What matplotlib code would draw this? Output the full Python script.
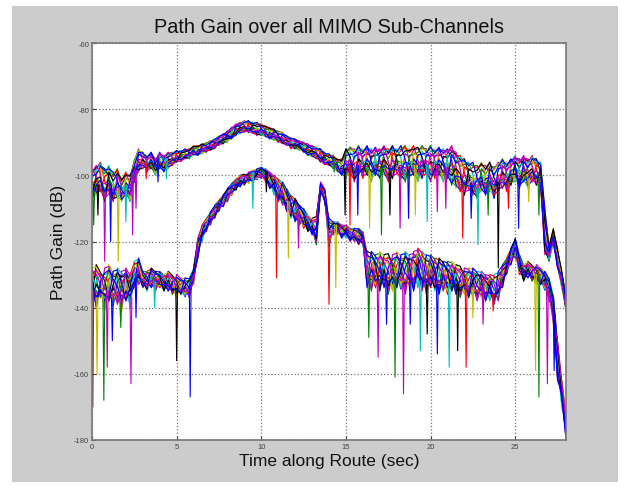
import numpy as np
import matplotlib
matplotlib.use("Agg")
import matplotlib.pyplot as plt
from matplotlib.patches import Rectangle

plt.rcParams['font.family'] = ['Liberation Sans', 'DejaVu Sans']
plt.rcParams['axes.unicode_minus'] = False

# time grid, 0.25 s steps
t = np.arange(113) * 0.25

# strong path bundle: top / bottom of the band (dB)
strong_hi = [-98, -97, -96, -98, -97, -99, -98, -101,
             -99, -100, -95, -92, -93, -94, -93, -95,
             -93, -94, -93, -93, -92.5, -92.5, -92, -92,
             -91, -91, -90.5, -90, -89.5, -89, -88, -87.5,
             -86.5, -85.5, -84.5, -84, -83.5, -83.5, -84, -84,
             -84.5, -85, -85.5, -86, -86.5, -87, -88, -88.5,
             -89, -89.5, -90, -90.5, -91, -91.5, -92, -93,
             -93.5, -94, -95, -95, -92, -91, -92, -91,
             -92, -91, -92, -91.5, -92, -91, -92, -91,
             -92, -91, -91, -92, -91, -91.5, -90.5, -92,
             -91, -92, -91.5, -92, -92, -91, -93, -94,
             -95, -96, -96, -97, -96, -97, -96, -97,
             -96, -95, -96, -95, -94, -95, -94, -95,
             -94, -95, -96, -110, -121, -116, -122, -129,
             -136]
strong_lo = [-108, -106, -105, -108, -106, -108, -107, -108,
             -106, -108, -102, -99, -98, -99, -98, -100,
             -98, -99, -98, -97, -96, -96, -95, -95,
             -94, -94, -93.5, -93, -92.5, -92, -91, -90.5,
             -90, -89, -88, -87.5, -87, -87, -87.5, -88,
             -88, -88.5, -89, -89.5, -90, -90.5, -91, -92,
             -92, -92.5, -93, -94, -94.5, -95, -96, -97,
             -97, -98, -99, -100, -101, -100, -102, -100,
             -101, -100, -102, -100, -101, -100, -102, -101,
             -100, -101, -102, -101, -100, -102, -101, -100,
             -102, -101, -100, -102, -101, -103, -104, -105,
             -106, -105, -106, -107, -105, -106, -105, -107,
             -105, -104, -105, -103, -102, -104, -102, -104,
             -102, -103, -104, -124, -126, -121, -128, -134,
             -141]

# weak path bundle
weak_hi = [-128, -127, -129, -128, -127, -129, -128, -129,
           -128, -130, -126, -125, -129, -129, -128, -129,
           -129, -130, -129, -130, -130, -131, -131, -131,
           -128, -119, -115, -113, -111, -109, -107.5, -106,
           -104, -102.5, -101, -100, -99.5, -99, -98.5, -98,
           -97.5, -98, -99, -100, -101, -102, -104, -106,
           -107, -109, -110, -112, -113, -112, -102, -104,
           -113, -114, -114, -115, -115, -116, -116, -116,
           -117, -123, -123, -124, -123, -124, -123, -124,
           -123, -124, -123, -124, -123, -122, -123, -124,
           -124, -125, -125, -126, -126, -126, -127, -127,
           -128, -128, -128, -129, -129, -130, -130, -130,
           -129, -127, -125, -122, -119, -124, -127, -126,
           -127, -127, -128, -129, -131, -136, -150, -162,
           -172]
weak_lo = [-138, -140, -137, -141, -138, -140, -139, -141,
           -138, -140, -134, -133, -134, -135, -134, -135,
           -134, -135, -135, -136, -137, -136, -137, -137,
           -133, -125, -120, -117, -115, -113, -111, -109.5,
           -108, -106, -104.5, -103.5, -103, -102.5, -102, -101.5,
           -101, -102, -104, -106, -108, -109, -111, -113,
           -114, -115, -116, -117, -118, -121, -106, -108,
           -122, -118, -118, -119, -119, -120, -120, -121,
           -121, -134, -135, -134, -135, -134, -136, -135,
           -134, -135, -136, -134, -135, -134, -135, -136,
           -134, -135, -136, -135, -136, -135, -136, -137,
           -136, -137, -137, -138, -137, -138, -138, -139,
           -138, -134, -130, -127, -125, -130, -132, -131,
           -132, -133, -133, -135, -138, -145, -162, -170,
           -180]

# deep fades (time, depth in dB)
strong_fades = [(0.1, -115), (0.35, -112), (0.75, -126), (1.1, -120), (1.55, -126),
                (2.0, -114), (2.4, -118), (2.6, -110), (3.2, -101), (3.9, -102),
                (4.4, -101), (14.3, -99), (14.95, -112), (15.24, -115), (15.7, -112),
                (16.4, -116), (17.1, -118), (17.6, -112), (18.2, -116), (18.7, -113),
                (19.1, -112), (19.8, -114), (20.4, -111), (20.9, -110), (21.9, -119),
                (22.4, -113), (22.8, -121), (23.4, -112), (24.0, -128), (24.6, -110),
                (25.2, -116), (25.8, -108), (26.4, -112)]
weak_fades = [(0.05, -170), (0.3, -160), (0.7, -168), (0.9, -158), (1.2, -150),
              (1.7, -146), (2.3, -163), (2.6, -143), (3.7, -140), (5.0, -156),
              (5.8, -167), (9.5, -110), (10.3, -105), (10.9, -131), (11.6, -125),
              (12.2, -122), (14.0, -139), (14.4, -134), (16.35, -149), (16.9, -155),
              (17.4, -145), (17.9, -161), (18.4, -166), (18.8, -145), (19.4, -153),
              (19.8, -148), (20.4, -154), (21.1, -158), (21.6, -153), (22.1, -158),
              (22.5, -143), (23.1, -145), (23.7, -141), (26.2, -159), (26.4, -167),
              (26.9, -163), (27.3, -159)]

# 16 sub-channels, MATLAB-ish colours, blue drawn last
channel_colors = ['g', 'r', 'c', 'm', 'y', 'k', 'b', 'g',
                  'r', 'c', 'm', 'y', 'k', 'b', 'm', 'b']
# where each sub-channel sits inside the band
spread = [0.0, 0.62, 0.25, 0.95, 0.4, 0.78, 0.1, 0.55, 0.88,
          0.3, 0.7, 0.05, 0.5, 1.0, 0.2, 0.85, 0.35]

fig = plt.figure(figsize=(6.28, 4.89), dpi=100)
fig.patch.set_facecolor('white')
fig.patches.append(Rectangle((12 / 628, 6 / 489), 606 / 628, 476 / 489,
                             transform=fig.transFigure, facecolor='#cccccc',
                             edgecolor='none', zorder=-10))

ax = fig.add_axes([92 / 628, 1 - 441 / 489, 474 / 628, 397 / 489])
ax.set_facecolor('white')

hi_s, lo_s = np.array(strong_hi), np.array(strong_lo)
hi_w, lo_w = np.array(weak_hi), np.array(weak_lo)
idx = np.arange(len(t))
n_ch = len(channel_colors)

for k in range(n_ch):
    w = np.array([spread[(i * 5 + k * 3) % len(spread)] for i in idx])
    ws = np.array([spread[(i * 7 + k * 4 + 3) % len(spread)] for i in idx])
    ax.plot(t, lo_s + w * (hi_s - lo_s), color=channel_colors[k], lw=0.85)
    ax.plot(t, lo_w + ws * (hi_w - lo_w), color=channel_colors[k], lw=0.85)

for j, (ft, fd) in enumerate(strong_fades):
    top = strong_lo[int(round(ft / 0.25))] + 3
    ax.plot([ft - 0.05, ft, ft + 0.05], [top, fd, top],
            color=channel_colors[(j * 5) % n_ch], lw=0.8)
for j, (ft, fd) in enumerate(weak_fades):
    top = weak_lo[int(round(ft / 0.25))] + 3
    ax.plot([ft - 0.05, ft, ft + 0.05], [top, fd, top],
            color=channel_colors[(j * 3 + 1) % n_ch], lw=0.8)

ax.set_xlim(0, 28)
ax.set_ylim(-180, -60)
ax.set_xticks([0, 5, 10, 15, 20, 25])
ax.set_yticks(np.arange(-180, -59, 20))
ax.grid(True, linestyle=':', color='#777777', linewidth=0.9)
ax.tick_params(direction='in', labelsize=5.5, colors='#444444', length=3, pad=2)
for s in ax.spines.values():
    s.set_color('#777777')
    s.set_linewidth(1.2)

ax.set_title('Path Gain over all MIMO Sub-Channels', fontsize=14.3, color='#111111', pad=8)
ax.set_xlabel('Time along Route (sec)', fontsize=12.5, color='#111111', labelpad=2)
ax.set_ylabel('Path Gain (dB)', fontsize=12.5, color='#111111', labelpad=6)

fig.savefig('out.png', dpi=100)
